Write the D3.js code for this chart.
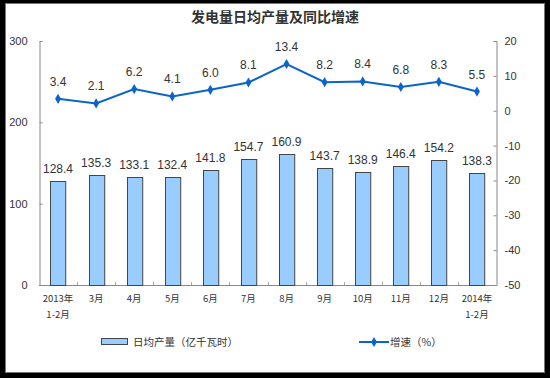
<!DOCTYPE html>
<html>
  <head>
    <meta charset="utf-8">
    <title>发电量日均产量及同比增速</title>
    <script src="https://d3js.org/d3.v7.min.js"></script>
    <style>
      body { margin: 0; background: #000; }
      text { font-family: "Liberation Sans", Arial, sans-serif; fill: #333; }
      .cjk { font-family: "Noto Sans CJK SC", sans-serif; }
    </style>
  </head>
  <body>
    <script>
      var width = 550;
      var height = 378;
      var margin = {top: 41, left: 39, right: 54, bottom: 92};

      // data
      var categories = ["2013年|1-2月","3月","4月","5月","6月","7月","8月","9月","10月","11月","12月","2014年|1-2月"];
      var output = [128.4, 135.3, 133.1, 132.4, 141.8, 154.7, 160.9, 143.7, 138.9, 146.4, 154.2, 138.3];
      var growth = [3.4, 2.1, 6.2, 4.1, 6.0, 8.1, 13.4, 8.2, 8.4, 6.8, 8.3, 5.5];
      var leftTicks = [0, 100, 200, 300];
      var rightTicks = [20, 10, 0, -10, -20, -30, -40, -50];

      var svg = d3.select("body")
        .append("svg")
        .attr("width", width)
        .attr("height", height);

      // white panel with black surround
      svg.append("rect")
        .attr("x", 5.5).attr("y", 3.5)
        .attr("width", 539).attr("height", 369)
        .attr("fill", "#fff")
        .attr("stroke", "#777");

      var xScale = d3.scaleBand()
        .domain(categories)
        .range([margin.left, width - margin.right])
        .paddingInner(0.6)
        .paddingOuter(0.3);

      var yLeft = d3.scaleLinear()
        .domain([0, 300])
        .range([height - margin.bottom - 1, margin.top]);

      var yRight = d3.scaleLinear()
        .domain([-50, 20])
        .range([height - margin.bottom - 1, margin.top]);

      var base = height - margin.bottom - 1;

      // title
      svg.append("text")
        .attr("class", "cjk")
        .attr("x", 275)
        .attr("y", 22)
        .attr("text-anchor", "middle")
        .style("font-size", "14px")
        .style("font-weight", "bold")
        .text("发电量日均产量及同比增速");

      // left axis
      var gl = svg.append("g")
        .attr("transform", `translate(${margin.left + 0.5},0)`)
        .call(d3.axisRight(yLeft).tickValues(leftTicks).tickSize(3).tickSizeOuter(3));
      gl.selectAll("text").attr("x", -12).attr("text-anchor", "end").style("font-size", "11px");

      // right axis
      var gr = svg.append("g")
        .attr("transform", `translate(${width - margin.right + 0.5},0)`)
        .call(d3.axisLeft(yRight).tickValues(rightTicks).tickFormat(function(d) { return String(d); })
          .tickSize(3).tickSizeOuter(3));
      gr.selectAll("text").attr("x", 8).attr("text-anchor", "start").style("font-size", "11px");

      // bottom axis
      var bounds = d3.range(categories.length + 1).map(function(i) {
        return margin.left + i * (width - margin.left - margin.right) / categories.length;
      });
      var gb = svg.append("g");
      gb.append("line")
        .attr("x1", margin.left).attr("x2", width - margin.right)
        .attr("y1", base + 0.5).attr("y2", base + 0.5)
        .attr("stroke", "#888");
      gb.selectAll("line.tick")
        .data(bounds.slice(1, -1))
        .enter().append("line")
        .attr("class", "tick")
        .attr("x1", function(d) { return Math.round(d) + 0.5; })
        .attr("x2", function(d) { return Math.round(d) + 0.5; })
        .attr("y1", base).attr("y2", base - 3)
        .attr("stroke", "#aaa");

      [gl, gr].forEach(function(g) {
        g.select(".domain").attr("stroke", "#888");
        g.selectAll(".tick line").attr("stroke", "#888");
        g.selectAll("text").style("fill", "#333").style("font-family", "Liberation Sans, Arial, sans-serif");
      });

      // x labels
      var xl = svg.selectAll("text.xlab")
        .data(categories)
        .enter().append("text")
        .attr("class", "xlab cjk")
        .attr("text-anchor", "middle")
        .style("font-size", "9.5px")
        .attr("transform", function(d) { return `translate(${xScale(d) + xScale.bandwidth() / 2},${base + 17})`; });
      xl.each(function(d) {
        var parts = d.split("|");
        var t = d3.select(this);
        parts.forEach(function(p, i) {
          t.append("tspan").attr("x", 0).attr("dy", i == 0 ? 0 : 16).text(p);
        });
      });

      // bars
      svg.selectAll("rect.bar")
        .data(output)
        .enter().append("rect")
        .attr("class", "bar")
        .attr("x", function(d, i) { return Math.round(xScale(categories[i])) + 0.5; })
        .attr("y", function(d) { return Math.round(yLeft(d)) + 0.5; })
        .attr("width", xScale.bandwidth())
        .attr("height", function(d) { return base - Math.round(yLeft(d)); })
        .attr("fill", "#99CCFF")
        .attr("stroke", "#444")
        .attr("stroke-width", 1);

      svg.selectAll("text.barlab")
        .data(output)
        .enter().append("text")
        .attr("class", "barlab")
        .attr("x", function(d, i) { return xScale(categories[i]) + xScale.bandwidth() / 2; })
        .attr("y", function(d) { return yLeft(d) - 8; })
        .attr("text-anchor", "middle")
        .style("font-size", "12px")
        .text(function(d) { return d.toFixed(1); });

      // line
      var line = d3.line()
        .x(function(d, i) { return xScale(categories[i]) + xScale.bandwidth() / 2; })
        .y(function(d) { return yRight(d); });

      svg.append("path")
        .datum(growth)
        .attr("d", line)
        .attr("fill", "none")
        .attr("stroke", "#0B64C8")
        .attr("stroke-width", 2);

      var diamond = d3.symbol().type(d3.symbolDiamond).size(30);
      svg.selectAll("path.pt")
        .data(growth)
        .enter().append("path")
        .attr("class", "pt")
        .attr("d", diamond)
        .attr("transform", function(d, i) { return `translate(${xScale(categories[i]) + xScale.bandwidth() / 2},${yRight(d)})`; })
        .attr("fill", "#0B64C8");

      svg.selectAll("text.ptlab")
        .data(growth)
        .enter().append("text")
        .attr("class", "ptlab")
        .attr("x", function(d, i) { return xScale(categories[i]) + xScale.bandwidth() / 2; })
        .attr("y", function(d) { return yRight(d) - 13; })
        .attr("text-anchor", "middle")
        .style("font-size", "12px")
        .text(function(d) { return d.toFixed(1); });

      // legend
      var ly = 342;
      svg.append("rect")
        .attr("x", 101.5).attr("y", ly - 3.5)
        .attr("width", 26).attr("height", 6)
        .attr("fill", "#99CCFF").attr("stroke", "#444");
      svg.append("text")
        .attr("class", "cjk")
        .attr("x", 133).attr("y", ly + 4)
        .style("font-size", "10.5px")
        .text("日均产量（亿千瓦时）");

      svg.append("line")
        .attr("x1", 359).attr("x2", 389)
        .attr("y1", ly).attr("y2", ly)
        .attr("stroke", "#0B64C8").attr("stroke-width", 2);
      svg.append("path")
        .attr("d", diamond)
        .attr("transform", `translate(374,${ly})`)
        .attr("fill", "#0B64C8");
      svg.append("text")
        .attr("class", "cjk")
        .attr("x", 390).attr("y", ly + 4)
        .style("font-size", "10.5px")
        .text("增速（%）");
    </script>
  </body>
</html>
